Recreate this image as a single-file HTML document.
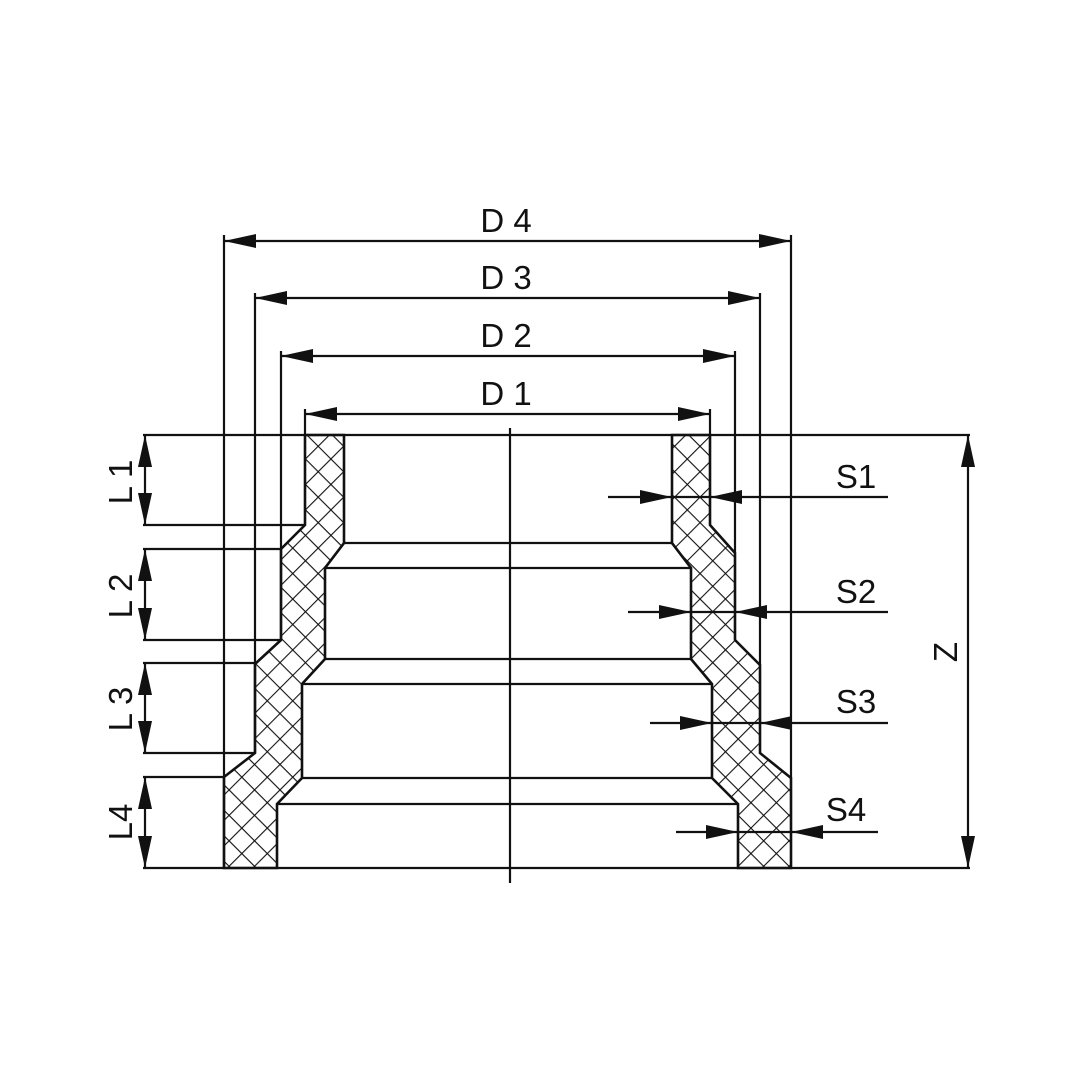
<!DOCTYPE html>
<html><head><meta charset="utf-8"><style>
html,body{margin:0;padding:0;background:#fff;}
svg{display:block}
text{font-family:"Liberation Sans",sans-serif;fill:#111;font-size:33px}
</style></head><body>
<svg width="1080" height="1080" viewBox="0 0 1080 1080" xmlns="http://www.w3.org/2000/svg">
<defs>
<pattern id="h" patternUnits="userSpaceOnUse" width="18" height="18" patternTransform="rotate(45)">
<line x1="0" y1="0" x2="0" y2="18" stroke="#111" stroke-width="2.2"/>
<line x1="0" y1="0" x2="18" y2="0" stroke="#111" stroke-width="2.2"/>
</pattern>
</defs>
<g stroke="#111" stroke-width="2.2" fill="none">
<polygon fill="url(#h)" stroke-width="2.6" points="305,435 305,525 281,549 281,640 255,664 255,753 224,777 224,868 277,868 277,804 302,778 302,684 325,659 325,568 344,543 344,435"/>
<polygon fill="url(#h)" stroke-width="2.6" points="672,435 672,543 691,568 691,659 712,684 712,778 738,804 738,868 791,868 791,778 760,753 760,665 735,640 735,553 710,525 710,435"/>
<line x1="344" y1="543" x2="672" y2="543"/>
<line x1="325" y1="568" x2="691" y2="568"/>
<line x1="325" y1="659" x2="691" y2="659"/>
<line x1="302" y1="684" x2="712" y2="684"/>
<line x1="302" y1="778" x2="712" y2="778"/>
<line x1="277" y1="804" x2="738" y2="804"/>
<line x1="143" y1="435" x2="970" y2="435"/>
<line x1="143" y1="868" x2="970" y2="868"/>
<line x1="510" y1="428" x2="510" y2="883"/>
<line x1="224" y1="235" x2="224" y2="868"/>
<line x1="791" y1="235" x2="791" y2="778"/>
<line x1="255" y1="293" x2="255" y2="753"/>
<line x1="760" y1="293" x2="760" y2="665"/>
<line x1="281" y1="351" x2="281" y2="640"/>
<line x1="735" y1="351" x2="735" y2="553"/>
<line x1="305" y1="409" x2="305" y2="435"/>
<line x1="710" y1="409" x2="710" y2="435"/>
<line x1="224" y1="241" x2="791" y2="241"/>
<line x1="255" y1="298" x2="760" y2="298"/>
<line x1="281" y1="356" x2="735" y2="356"/>
<line x1="305" y1="414" x2="710" y2="414"/>
<line x1="143" y1="525" x2="305" y2="525"/>
<line x1="143" y1="549" x2="281" y2="549"/>
<line x1="143" y1="640" x2="281" y2="640"/>
<line x1="143" y1="663" x2="255" y2="663"/>
<line x1="143" y1="753" x2="255" y2="753"/>
<line x1="143" y1="777" x2="224" y2="777"/>
<line x1="145" y1="435" x2="145" y2="525"/>
<line x1="145" y1="549" x2="145" y2="640"/>
<line x1="145" y1="663" x2="145" y2="753"/>
<line x1="145" y1="777" x2="145" y2="868"/>
<line x1="968" y1="435" x2="968" y2="868"/>
<line x1="608" y1="497" x2="888" y2="497"/>
<line x1="628" y1="612" x2="888" y2="612"/>
<line x1="650" y1="723" x2="888" y2="723"/>
<line x1="676" y1="832" x2="878" y2="832"/>
</g>
<g fill="#111">
<polygon points="224,241 256,234 256,248"/><polygon points="791,241 759,234 759,248"/>
<polygon points="255,298 287,291 287,305"/><polygon points="760,298 728,291 728,305"/>
<polygon points="281,356 313,349 313,363"/><polygon points="735,356 703,349 703,363"/>
<polygon points="305,414 337,407 337,421"/><polygon points="710,414 678,407 678,421"/>
<polygon points="145,435 138,467 152,467"/><polygon points="145,525 138,493 152,493"/>
<polygon points="145,549 138,581 152,581"/><polygon points="145,640 138,608 152,608"/>
<polygon points="145,663 138,695 152,695"/><polygon points="145,753 138,721 152,721"/>
<polygon points="145,777 138,809 152,809"/><polygon points="145,868 138,836 152,836"/>
<polygon points="968,435 961,467 975,467"/><polygon points="968,868 961,836 975,836"/>
<polygon points="672,497 640,490 640,504"/><polygon points="710,497 742,490 742,504"/>
<polygon points="691,612 659,605 659,619"/><polygon points="735,612 767,605 767,619"/>
<polygon points="712,723 680,716 680,730"/><polygon points="760,723 792,716 792,730"/>
<polygon points="738,832 706,825 706,839"/><polygon points="791,832 823,825 823,839"/>
</g>
<g text-anchor="middle">
<text x="506" y="232">D 4</text>
<text x="506" y="289">D 3</text>
<text x="506" y="347">D 2</text>
<text x="506" y="405">D 1</text>
<text x="856" y="488">S1</text>
<text x="856" y="603">S2</text>
<text x="856" y="713">S3</text>
<text x="846" y="821">S4</text>
<text transform="translate(957,652) rotate(-90)">Z</text>
<text transform="translate(132,482) rotate(-90)">L 1</text>
<text transform="translate(132,596) rotate(-90)">L 2</text>
<text transform="translate(132,709) rotate(-90)">L 3</text>
<text transform="translate(132,822) rotate(-90)">L4</text>
</g>
</svg>
</body></html>
